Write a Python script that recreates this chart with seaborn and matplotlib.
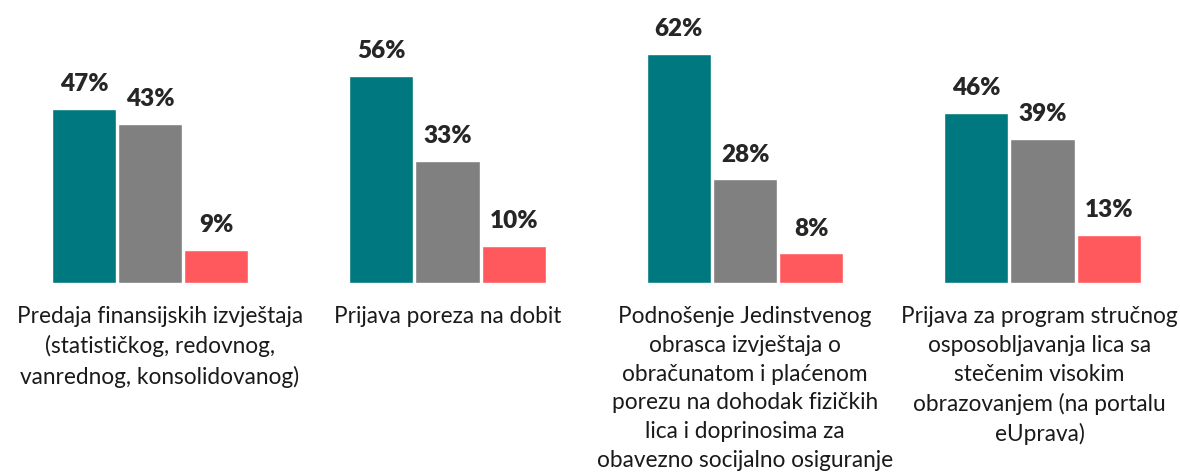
import matplotlib
matplotlib.use("Agg")
import matplotlib.pyplot as plt
import seaborn as sns
import pandas as pd

sns.set_theme(style="white")
plt.rcParams["font.family"] = ["Lato", "DejaVu Sans"]

categories = [
    "Predaja finansijskih izvještaja\n(statističkog, redovnog,\nvanrednog, konsolidovanog)",
    "Prijava poreza na dobit",
    "Podnošenje Jedinstvenog\nobrasca izvještaja o\nobračunatom i plaćenom\nporezu na dohodak fizičkih\nlica i doprinosima za\nobavezno socijalno osiguranje",
    "Prijava za program stručnog\nosposobljavanja lica sa\nstečenim visokim\nobrazovanjem (na portalu\neUprava)",
]
series = ["A", "B", "C"]
series_a = [47, 56, 62, 46]
series_b = [43, 33, 28, 39]
series_c = [9, 10, 8, 13]
colors = ["#007880", "#808080", "#FF585D"]

rows = []
for i, cat in enumerate(categories):
    for s, vals in zip(series, [series_a, series_b, series_c]):
        rows.append({"cat": i, "series": s, "value": vals[i]})
df = pd.DataFrame(rows)

W, H = 1180, 472
fig = plt.figure(figsize=(W / 100, H / 100), dpi=100)
base_px = 189
px_per_pct = 3.7
ymax = 76
ax = fig.add_axes([0, base_px / H, 1, px_per_pct * ymax / H])

sns.barplot(data=df, x="cat", y="value", hue="series", hue_order=series,
            palette=colors, width=0.667, gap=0.03, saturation=1,
            legend=False, ax=ax, order=list(range(len(categories))))

group_px = 297.5
first_px = 150
ax.set_xlim(-first_px / group_px, (W - first_px) / group_px)
ax.set_ylim(0, ymax)
ax.set_axis_off()

for container in ax.containers:
    for bar in container:
        v = bar.get_height()
        ax.annotate(f"{v:.0f}%", (bar.get_x() + bar.get_width() / 2, v),
                    xytext=(0, 10), textcoords="offset points",
                    ha="center", va="bottom", fontsize=17.5, fontweight="heavy",
                    color="#262626")

# horizontal nudge (pixels) keeps the outer labels inside the figure
label_shift = [10, 0, 0, -3]
for i, cat in enumerate(categories):
    ax.annotate(cat, (i, 0), xytext=(label_shift[i] * 0.72, -16.5),
                textcoords="offset points", ha="center", va="top",
                fontsize=16.3, color="#1a1a1a", linespacing=1.46,
                annotation_clip=False)

fig.savefig("out.png", dpi=100)
